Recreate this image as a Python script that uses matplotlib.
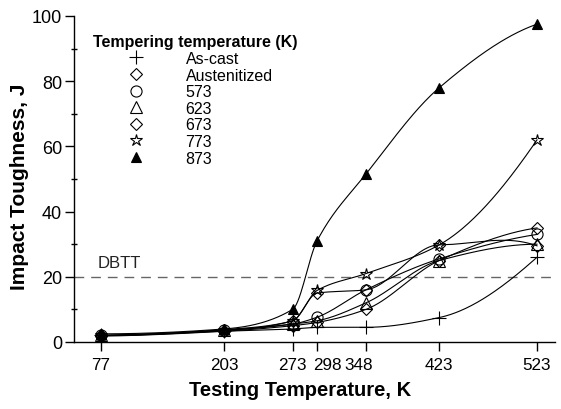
import numpy as np
import matplotlib
matplotlib.use('Agg')
from matplotlib import pyplot as plt
from matplotlib import transforms

plt.rcParams['font.family'] = ['Liberation Sans', 'DejaVu Sans']

# testing temperatures (K)
temps = [77, 203, 273, 298, 348, 423, 523]

# impact toughness (J) for each tempering condition
as_cast = [2.0, 3.3, 4.0, 4.5, 4.5, 7.5, 26.0]
austenitized = [1.8, 3.3, 5.0, 6.0, 10.0, 25.0, 35.0]
t573 = [2.0, 3.6, 5.5, 7.6, 16.0, 25.5, 33.0]
t623 = [2.0, 3.6, 5.5, 6.5, 12.0, 25.0, 30.0]
t673 = [2.0, 3.5, 6.5, 15.0, 16.0, 29.8, 29.5]
t773 = [2.0, 3.8, 6.5, 15.8, 21.0, 29.8, 62.0]
t873 = [2.5, 4.0, 10.0, 31.0, 51.5, 78.0, 97.5]

labels = ['As-cast', 'Austenitized', '573', '623', '673', '773', '873']
series = [as_cast, austenitized, t573, t623, t673, t773, t873]
markers = ['+', 'D', 'o', '^', 'D', '*', '^']
msizes = [10, 6, 8, 8, 6, 9, 7]
filled = [False, False, False, False, False, False, True]

dbtt = 20


def smooth_curve(x, y, n=300):
    # monotone cubic (pchip) through the measured points, only for drawing
    x = np.asarray(x, float)
    y = np.asarray(y, float)
    h = np.diff(x)
    d = np.diff(y) / h
    k = len(x)
    m = np.zeros(k)
    for i in range(1, k - 1):
        if d[i - 1] * d[i] > 0:
            w1 = 2 * h[i] + h[i - 1]
            w2 = h[i] + 2 * h[i - 1]
            m[i] = (w1 + w2) / (w1 / d[i - 1] + w2 / d[i])
    m[0] = ((2 * h[0] + h[1]) * d[0] - h[0] * d[1]) / (h[0] + h[1])
    if m[0] * d[0] <= 0:
        m[0] = 0
    m[-1] = ((2 * h[-1] + h[-2]) * d[-1] - h[-1] * d[-2]) / (h[-1] + h[-2])
    if m[-1] * d[-1] <= 0:
        m[-1] = 0
    xs = np.linspace(x[0], x[-1], n)
    idx = np.clip(np.searchsorted(x, xs) - 1, 0, k - 2)
    hh = h[idx]
    t = (xs - x[idx]) / hh
    h00 = 2 * t ** 3 - 3 * t ** 2 + 1
    h10 = t ** 3 - 2 * t ** 2 + t
    h01 = -2 * t ** 3 + 3 * t ** 2
    h11 = t ** 3 - t ** 2
    ys = h00 * y[idx] + h10 * hh * m[idx] + h01 * y[idx + 1] + h11 * hh * m[idx + 1]
    return xs, ys


fig = plt.figure(figsize=(5.61, 4.10), dpi=100)
ax = fig.add_axes([74 / 561, 67 / 410, 481 / 561, 326 / 410])

handles = []
for vals, lab, mk, ms, fl in zip(series, labels, markers, msizes, filled):
    xs, ys = smooth_curve(temps, vals)
    ax.plot(xs, ys, color='black', lw=0.8, zorder=2)
    h, = ax.plot(temps, vals, linestyle='none', marker=mk, markersize=ms,
                 markerfacecolor='black' if fl else 'none',
                 markeredgecolor='black', markeredgewidth=0.8, zorder=3, label=lab)
    handles.append(h)

ax.axhline(dbtt, color='#666666', lw=1.0, dashes=(7, 5), zorder=1)
ax.text(74, dbtt + 2, 'DBTT', fontsize=12, ha='left', va='bottom', color='#222222')

ax.set_xlim(49.4, 541.4)
ax.set_ylim(0, 100)
ax.set_xticks(temps)
ax.set_yticks(range(0, 101, 20))
ax.set_yticks(range(10, 100, 20), minor=True)
ax.tick_params(axis='both', which='major', direction='out', length=6.5, width=1,
               labelsize=12.3, colors='black')
ax.tick_params(axis='x', which='major', pad=4.5)
ax.tick_params(axis='y', which='major', pad=2, labelsize=13)
ax.tick_params(axis='y', which='minor', direction='inout', length=5, width=1)

# crowded tick labels are nudged sideways (pixels), as in the original figure
nudge = {298: 10, 348: -7}
for temp, tick in zip(temps, ax.xaxis.get_major_ticks()):
    dx = nudge.get(temp, 0)
    if dx:
        lbl = tick.label1
        lbl.set_transform(lbl.get_transform() +
                          transforms.ScaledTranslation(dx / 100, 0, fig.dpi_scale_trans))

for s in ['top', 'right']:
    ax.spines[s].set_visible(False)
for s in ['left', 'bottom']:
    ax.spines[s].set_linewidth(1)

ax.set_xlabel('Testing Temperature, K', fontsize=14.5, fontweight='bold')
ax.set_ylabel('Impact Toughness, J', fontsize=15, fontweight='bold')
ax.xaxis.set_label_coords((300 - 74) / 481, (343 - 381) / 326)
ax.yaxis.set_label_coords((29 - 74) / 481, 0.479)

fig.text(93 / 561, 1 - 43 / 410, 'Tempering temperature (K)', fontsize=11.5,
         fontweight='bold', ha='left', va='center')
leg = ax.legend(handles=handles, labels=labels, loc='upper left',
                bbox_to_anchor=(120 / 561, 1 - 52 / 410), bbox_transform=fig.transFigure,
                frameon=False, fontsize=11.5, borderpad=0, borderaxespad=0,
                handlelength=2, handletextpad=2.1, labelspacing=0.1)

fig.savefig('out.png', dpi=100)
